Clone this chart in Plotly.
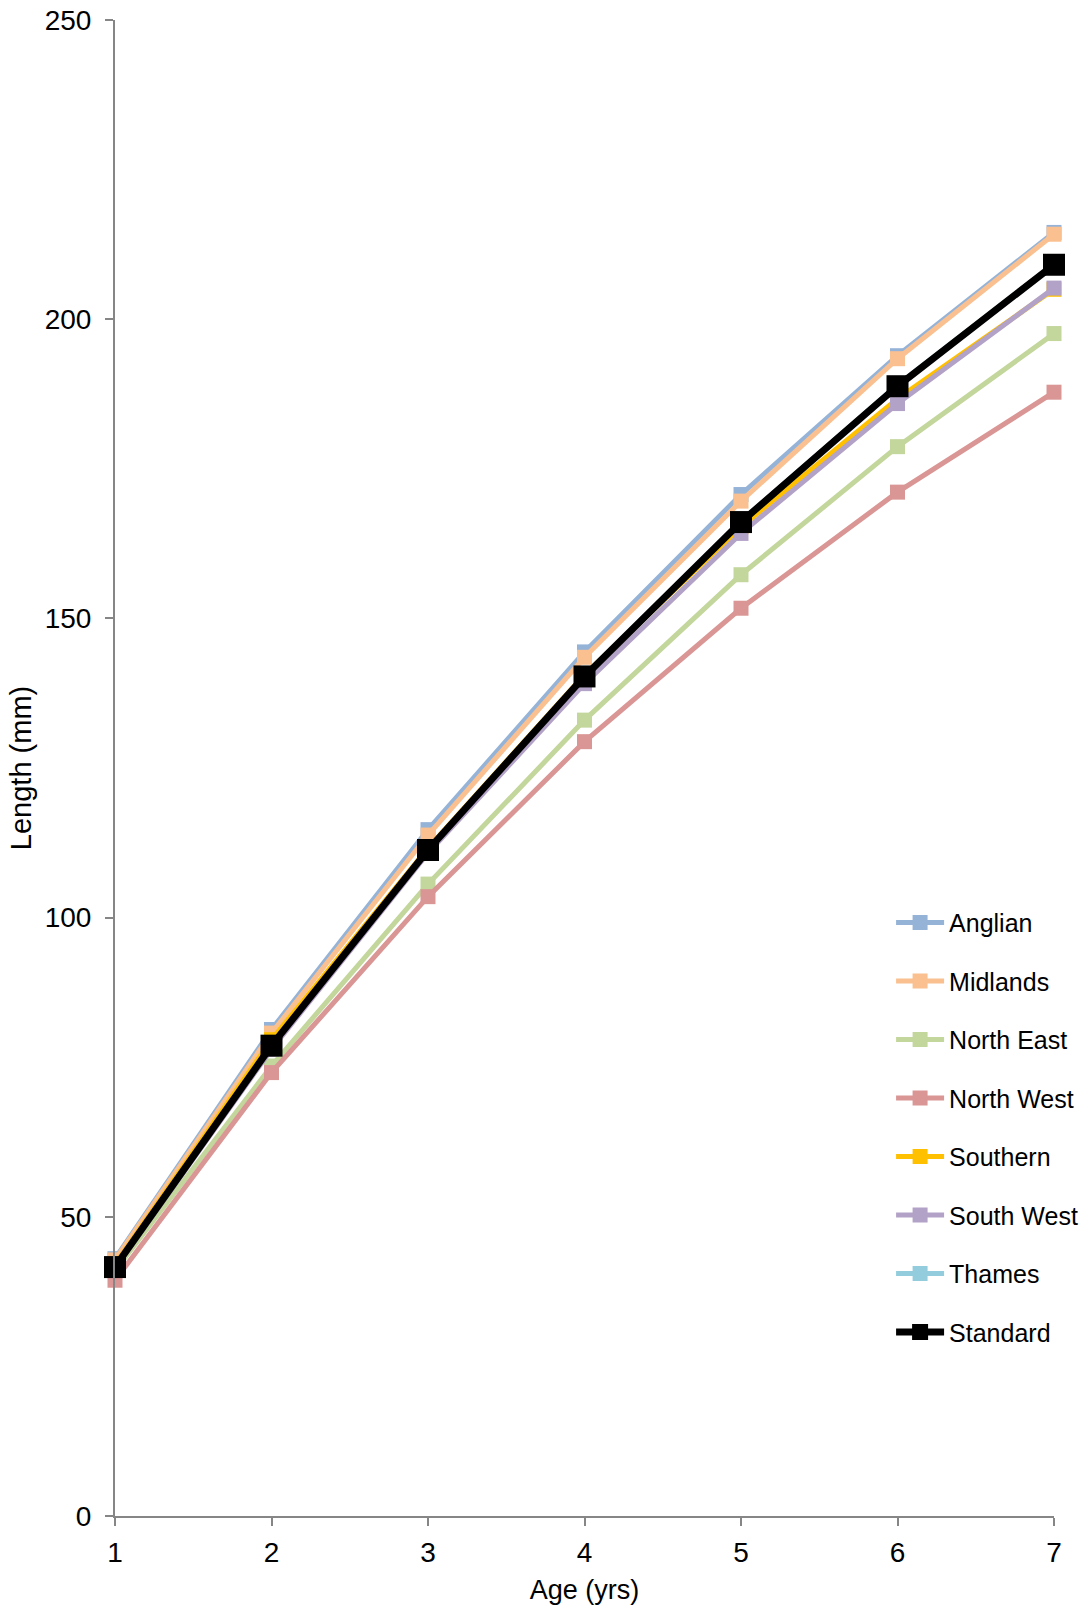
import plotly.graph_objects as go

# Mean length at age (mm) by region, with the national standard curve
ages = [1, 2, 3, 4, 5, 6, 7]
anglian = [43.0, 81.3, 114.7, 144.4, 170.7, 193.9, 214.5]
midlands = [42.8, 80.7, 113.8, 143.5, 169.6, 193.4, 214.2]
north_east = [41.0, 75.2, 105.6, 133.0, 157.3, 178.7, 197.6]
north_west = [39.4, 74.1, 103.5, 129.4, 151.7, 171.1, 187.8]
southern = [42.0, 79.6, 111.6, 140.6, 165.3, 186.7, 205.0]
south_west = [41.4, 78.0, 110.8, 139.1, 164.2, 185.9, 205.2]
thames = [41.6, 78.7, 111.4, 140.4, 166.2, 189.0, 209.2]
standard = [41.6, 78.6, 111.3, 140.3, 166.1, 188.8, 209.1]

series = [
    ("Anglian", anglian, "#95B3D7"),
    ("Midlands", midlands, "#FAC090"),
    ("North East", north_east, "#C3D69B"),
    ("North West", north_west, "#D99694"),
    ("Southern", southern, "#FFC000"),
    ("South West", south_west, "#B3A2C7"),
    ("Thames", thames, "#93CDDD"),
]

FONT = "Liberation Sans, Arial, sans-serif"

fig = go.Figure()
for i, (name, vals, col) in enumerate(series):
    fig.add_trace(go.Scatter(
        x=ages, y=vals, name=name, mode="lines+markers",
        line=dict(color=col, width=5),
        marker=dict(symbol="square", size=15, color=col),
        cliponaxis=False, legendgroup=f"g{i}",
    ))
fig.add_trace(go.Scatter(
    x=ages, y=standard, name="Standard", mode="lines+markers",
    line=dict(color="#000000", width=7),
    marker=dict(symbol="square", size=22, color="#000000"),
    cliponaxis=False, legendgroup="g_std",
))

axis_common = dict(
    showgrid=False, zeroline=False, showline=True, automargin=False,
    linecolor="#868686", linewidth=2,
    ticks="outside", ticklen=8, tickwidth=2, tickcolor="#868686",
    tickfont=dict(family=FONT, size=28, color="#000000"),
)

fig.update_layout(
    width=1091, height=1611,
    margin=dict(l=115, r=37, t=20, b=95, autoexpand=False),
    paper_bgcolor="white", plot_bgcolor="white",
    font=dict(family=FONT, size=26, color="#000000"),
    xaxis=dict(
        range=[1, 7], tickvals=ages, ticklabelstandoff=2,
        title=dict(text="Age (yrs)", font=dict(family=FONT, size=27), standoff=14),
        **axis_common,
    ),
    yaxis=dict(
        range=[0, 250], tickvals=[0, 50, 100, 150, 200, 250], ticklabelstandoff=8,
        title=dict(text="Length (mm)", font=dict(family=FONT, size=29), standoff=5),
        **axis_common,
    ),
    legend=dict(
        x=0.8265, xanchor="left", y=0.412, yanchor="top",
        font=dict(family=FONT, size=25, color="#000000"),
        bgcolor="rgba(0,0,0,0)", tracegroupgap=23, itemwidth=48,
        traceorder="grouped",
    ),
    showlegend=True,
)

fig.write_html("out.html")
